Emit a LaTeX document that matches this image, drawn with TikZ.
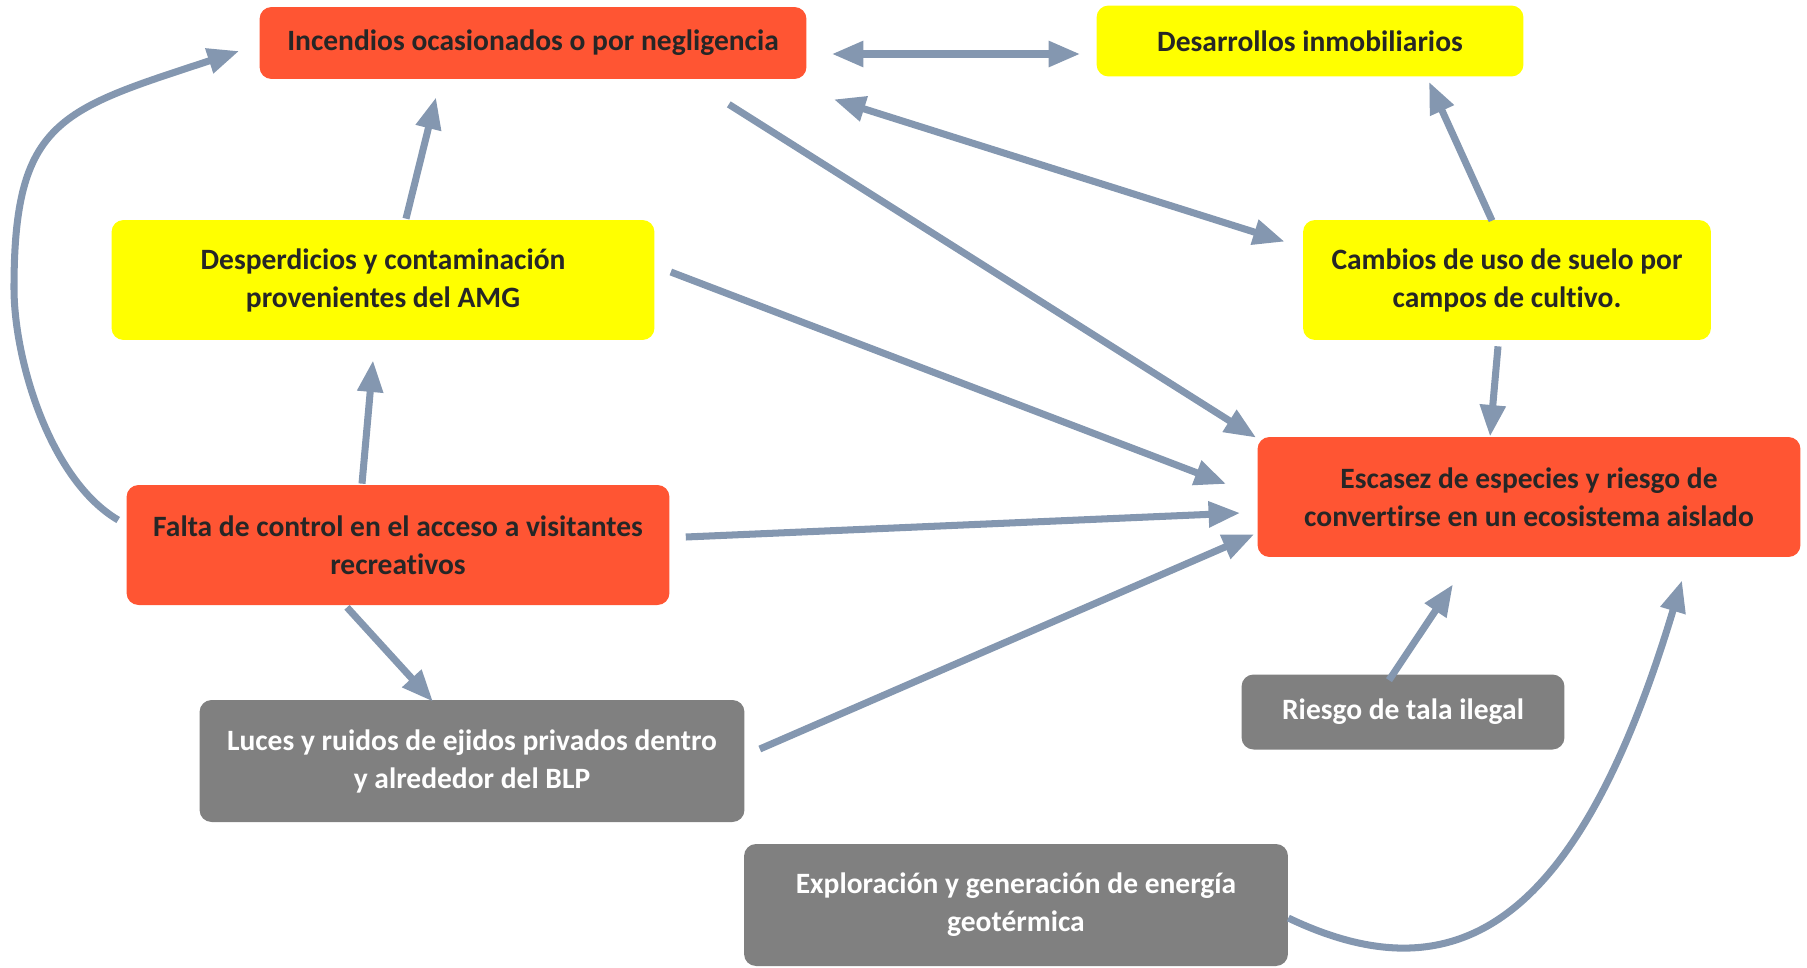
\documentclass[tikz,border=0pt]{standalone}
\usepackage{fontspec}
\setmainfont{Carlito}[RawFeature={-liga}]
\usetikzlibrary{arrows.meta,calc}
\definecolor{rojo}{RGB}{255,85,51}
\definecolor{amarillo}{RGB}{255,255,0}
\definecolor{gris}{RGB}{128,128,128}
\definecolor{flecha}{RGB}{132,151,176}
\definecolor{texto}{RGB}{38,38,38}
\begin{document}
\begin{tikzpicture}[x=0.02cm,y=-0.02cm,
    caja/.style={rounded corners=0.24cm,align=center,inner sep=2pt,
      font=\fontsize{16.8}{21.6}\selectfont\bfseries,text=texto},
    causa/.style={caja,fill=rojo},
    efecto/.style={caja,fill=amarillo},
    fuente/.style={caja,fill=gris,text=white},
    flechas/.style={draw=flecha,line width=4pt},
    >={Triangle[length=18pt,width=14pt]}]
    \useasboundingbox (0,0) rectangle (1807,967);

    % cajas de arriba
    \node[causa,minimum width=10.94cm,minimum height=1.44cm] (inc) at (533,43) {Incendios ocasionados o por negligencia};
    \node[efecto,minimum width=8.54cm,minimum height=1.42cm] (des) at (1310,41) {Desarrollos inmobiliarios};

    % segunda fila
    \node[efecto,minimum width=10.86cm,minimum height=2.4cm] (dsp) at (383,280) {Desperdicios y contaminación\\provenientes del AMG};
    \node[efecto,minimum width=8.16cm,minimum height=2.4cm] (cam) at (1507,280) {Cambios de uso de suelo por\\campos de cultivo.};

    % centro
    \node[causa,minimum width=10.86cm,minimum height=2.4cm] (esc) at (1529,497) {Escasez de especies y riesgo de\\convertirse en un ecosistema aislado};
    \node[causa,minimum width=10.86cm,minimum height=2.4cm] (fal) at (398,545) {Falta de control en el acceso a visitantes\\recreativos};

    % cajas grises
    \node[fuente,minimum width=10.9cm,minimum height=2.44cm] (luc) at (472,761) {Luces y ruidos de ejidos privados dentro\\y alrededor del BLP};
    \node[fuente,minimum width=6.46cm,minimum height=1.5cm] (rie) at (1403,712) {Riesgo de tala ilegal};
    \node[fuente,minimum width=10.88cm,minimum height=2.44cm] (exp) at (1016,905) {Exploración y generación de energía\\geotérmica};

    % flechas
    \draw[flechas,<->] ($(inc.east)+(25,11)$) -- ($(des.west)+(-16,13)$);
    \draw[flechas,<->] ($(inc.south east)+(27,20)$) -- ($(cam.north west)+(-18,22)$);
    \draw[flechas,->] ($(cam.north)+(-15,1)$) -- ($(des.south)+(119,5)$);
    \draw[flechas,->] ($(inc.south east)+(-78,25)$) -- ($(esc.north west)+(-1,1)$);
    \draw[flechas,->] ($(dsp.north)+(23,-1)$) -- ($(inc.south)+(-97,18)$);
    \draw[flechas,->] ($(dsp.east)+(16,-8)$) -- ($(esc.west)+(-31,-13)$);
    \draw[flechas,->] ($(cam.south)+(-9,6)$) -- ($(esc.north)+(-39,0)$);
    \draw[flechas,->] ($(fal.north)+(-36,-1)$) -- ($(dsp.south)+(-10,20)$);
    \draw[flechas,->] ($(fal.east)+(16,-8)$) -- ($(esc.west)+(-17,16)$);
    \draw[flechas,->] ($(fal.west)+(-8,-25)$) .. controls (50,480) and (14,360) .. (14,288)
      .. controls (14,120) and (60,110) .. ($(inc.west)+(-20,8)$);
    \draw[flechas,->] ($(fal.south)+(-51,2)$) -- ($(luc.north)+(-39,2)$);
    \draw[flechas,->] ($(luc.east)+(15,-12)$) -- ($(esc.south west)+(-3,-23)$);
    \draw[flechas,->] ($(rie.north)+(-14,6)$) -- ($(esc.south)+(-76,27)$);
    \draw[flechas,->] ($(exp.east)+(0,13)$) .. controls (1460,1000) and (1580,920) .. ($(esc.south)+(153,23)$);
\end{tikzpicture}
\end{document}
